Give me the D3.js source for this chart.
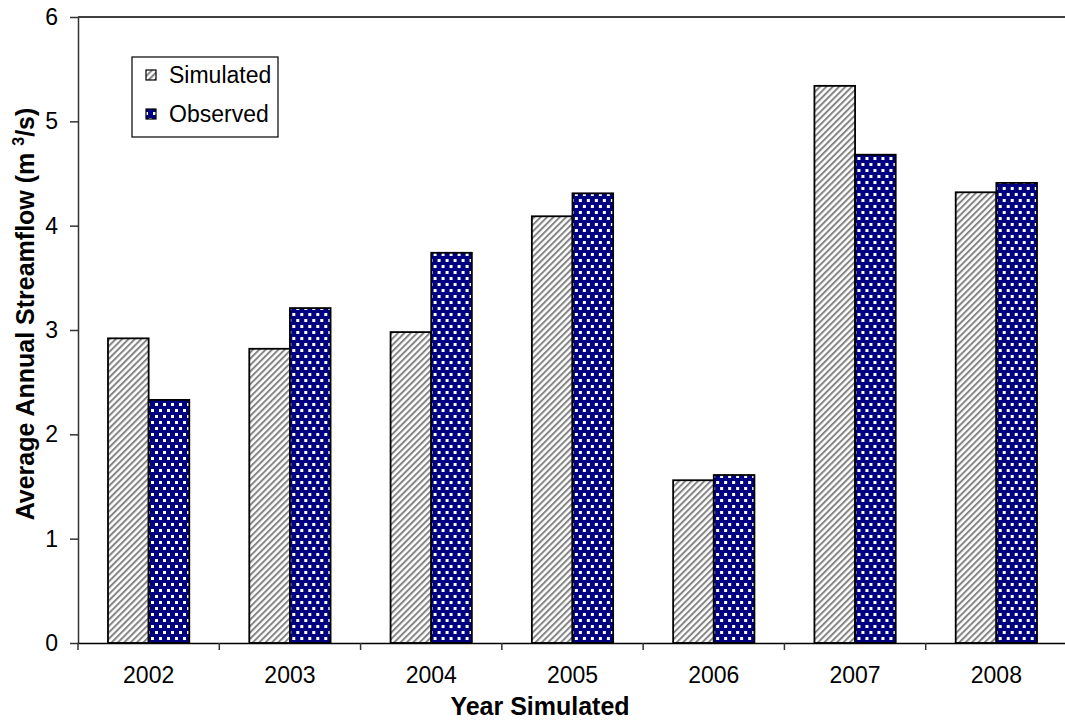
<!DOCTYPE html>
<html>
<head>
<meta charset="utf-8">
<script src="https://cdn.jsdelivr.net/npm/d3@7/dist/d3.min.js"></script>
<style>
  body { margin: 0; background: #fff; }
  svg { display: block; font-family: "Liberation Sans", Arial, sans-serif; }
</style>
</head>
<body>
<svg width="1065" height="721"></svg>
<script>
// data
var years = ["2002", "2003", "2004", "2005", "2006", "2007", "2008"];
var series = ["Simulated", "Observed"];
var simulated = [2.92, 2.82, 2.98, 4.09, 1.56, 5.34, 4.32];
var observed = [2.33, 3.21, 3.74, 4.31, 1.61, 4.68, 4.41];
var yTicks = [0, 1, 2, 3, 4, 5, 6];

var svg = d3.select("svg"),
    plotLeft = 78, plotTop = 17, plotRight = 1067, plotBottom = 643;

// patterns (hatch for simulated, white squares on navy for observed)
var defs = svg.append("defs");
var hatch = defs.append("pattern").attr("id", "hatch")
    .attr("patternUnits", "userSpaceOnUse").attr("width", 4.5).attr("height", 4.5)
    .attr("patternTransform", "rotate(45)");
hatch.append("rect").attr("width", 4.5).attr("height", 4.5).attr("fill", "#fff");
hatch.append("rect").attr("width", 2).attr("height", 4.5).attr("fill", "#858585");

var dots = defs.append("pattern").attr("id", "dots")
    .attr("patternUnits", "userSpaceOnUse").attr("width", 8).attr("height", 12);
dots.append("rect").attr("width", 8).attr("height", 12).attr("fill", "#000080");
[[1, 1], [5, 7]].forEach(function(p) {
  dots.append("rect").attr("x", p[0]).attr("y", p[1]).attr("width", 3).attr("height", 3).attr("fill", "#fff");
});

var fills = { Simulated: "url(#hatch)", Observed: "url(#dots)" };

var x0 = d3.scaleBand().domain(years).range([plotLeft, plotRight]).padding(0);
var x1 = d3.scaleBand().domain(series).range([30, x0.bandwidth() - 30]);
var y = d3.scaleLinear().domain([0, 6]).range([plotBottom, plotTop]);

var rows = years.map(function(yr, i) {
  return { year: yr, Simulated: simulated[i], Observed: observed[i] };
});

// top border
svg.append("line").attr("x1", plotLeft).attr("x2", plotRight).attr("y1", plotTop).attr("y2", plotTop)
    .attr("stroke", "#000").attr("stroke-width", 1.5);

// bars
var groups = svg.selectAll(".grp").data(rows).enter().append("g")
    .attr("transform", function(d) { return "translate(" + x0(d.year) + ",0)"; });
groups.selectAll("rect").data(function(d) {
  return series.map(function(s) { return { key: s, value: d[s] }; });
}).enter().append("rect")
    .attr("x", function(d) { return x1(d.key); })
    .attr("y", function(d) { return y(d.value); })
    .attr("width", x1.bandwidth())
    .attr("height", function(d) { return plotBottom - y(d.value); })
    .attr("fill", function(d) { return fills[d.key]; })
    .attr("stroke", "#000").attr("stroke-width", 1.8);

// y axis
var yAxis = svg.append("g").attr("transform", "translate(" + plotLeft + ",0)")
    .call(d3.axisLeft(y).tickValues(yTicks).tickFormat(d3.format("d"))
      .tickSize(8).tickPadding(12).tickSizeOuter(0));
yAxis.selectAll("text").attr("font-size", 23).attr("font-family", "Liberation Sans, Arial").attr("fill", "#000");
yAxis.select(".domain").attr("stroke", "#333").attr("stroke-width", 1.5);
yAxis.selectAll(".tick line").attr("stroke", "#333").attr("stroke-width", 1.5);

// x axis
var xAxis = svg.append("g").attr("transform", "translate(0," + plotBottom + ")")
    .call(d3.axisBottom(x0).tickSize(0).tickPadding(24).tickSizeOuter(0));
xAxis.selectAll("text").attr("font-size", 23).attr("font-family", "Liberation Sans, Arial").attr("fill", "#000");
xAxis.select(".domain").attr("stroke", "#000").attr("stroke-width", 1.5);
xAxis.selectAll(".sep").data(years).enter().append("line").attr("class", "sep")
    .attr("x1", function(d) { return x0(d); }).attr("x2", function(d) { return x0(d); })
    .attr("y1", 0).attr("y2", 7).attr("stroke", "#333").attr("stroke-width", 1.5);

// axis titles
svg.append("text").attr("x", 540).attr("y", 715)
    .attr("text-anchor", "middle").attr("font-size", 25).attr("font-weight", "bold")
    .text("Year Simulated");

var yt = svg.append("text").attr("transform", "translate(34,314) rotate(-90)")
    .attr("text-anchor", "middle").attr("font-size", 25).attr("font-weight", "bold");
yt.append("tspan").text("Average Annual Streamflow (m ");
yt.append("tspan").attr("font-size", 16).attr("dy", -10).text("3");
yt.append("tspan").attr("dy", 10).text("/s)");

// legend
var lg = svg.append("g").attr("transform", "translate(132,57)");
lg.append("rect").attr("width", 146).attr("height", 80).attr("fill", "#fff")
    .attr("stroke", "#000").attr("stroke-width", 1.2);
series.forEach(function(s, i) {
  lg.append("rect").attr("x", 14).attr("y", 13 + i * 39).attr("width", 10).attr("height", 10)
      .attr("fill", fills[s]).attr("stroke", "#000").attr("stroke-width", 1.2);
  lg.append("text").attr("x", 37).attr("y", 26 + i * 39).attr("font-size", 23).text(s);
});
</script>
</body>
</html>
